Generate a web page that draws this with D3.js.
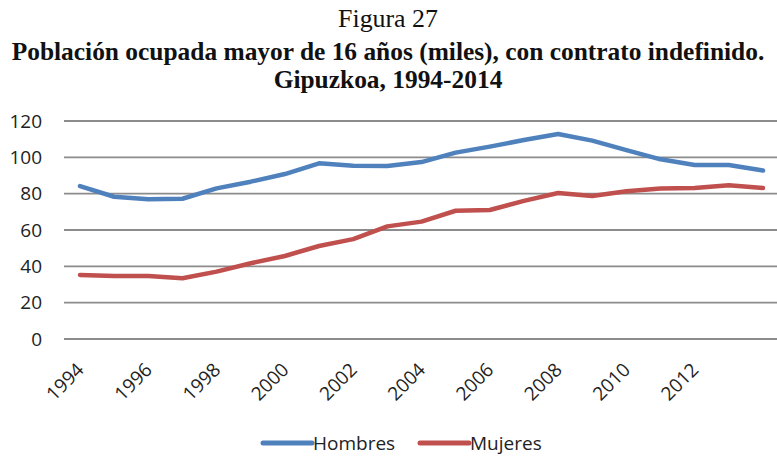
<!DOCTYPE html>
<html><head><meta charset="utf-8">
<script src="https://cdn.jsdelivr.net/npm/d3@7"></script>
<style>body{margin:0;background:#fff}</style>
</head><body>
<svg id="c" width="777" height="456"></svg>
<script>
const years = [1994,1995,1996,1997,1998,1999,2000,2001,2002,2003,2004,2005,2006,2007,2008,2009,2010,2011,2012,2013,2014];
const hombres = [84.2,78.3,76.9,77.2,82.9,86.6,90.8,96.7,95.4,95.2,97.4,102.6,105.9,109.5,112.8,109.2,104.0,98.9,95.8,95.8,92.7];
const mujeres = [35.2,34.7,34.7,33.4,37.1,41.7,45.7,51.2,55.0,62.0,64.6,70.6,71.0,76.0,80.4,78.7,81.3,82.9,83.1,84.6,83.1];
const xTickLabels = [1994,1996,1998,2000,2002,2004,2006,2008,2010,2012];
const yTicks = [0,20,40,60,80,100,120];
const seriesNames = ["Hombres","Mujeres"];
const colors = ["#4F81BD","#C0504D"];
const titleLines = ["Figura 27","Población ocupada mayor de 16 años (miles), con contrato indefinido.","Gipuzkoa, 1994-2014"];

const svg = d3.select("#c");
const x = d3.scalePoint().domain(years).range([80,763]);
const y = d3.scaleLinear().domain([0,120]).range([339,121]);

// gridlines
svg.append("g").selectAll("line").data(yTicks).join("line")
  .attr("x1",64).attr("x2",777).attr("y1",d=>y(d)).attr("y2",d=>y(d))
  .attr("stroke","#8c8c8c").attr("stroke-width",1.8);

// y labels
svg.append("g").selectAll("text").data(yTicks).join("text")
  .attr("x",42).attr("y",d=>y(d)).attr("dy","0.35em")
  .attr("text-anchor","end").attr("font-family","Open Sans").attr("font-size",19).attr("fill","#222")
  .text(d=>d);

// x labels
svg.append("g").selectAll("text").data(xTickLabels).join("text")
  .attr("text-anchor","end").attr("font-family","Open Sans").attr("font-size",19).attr("fill","#222")
  .attr("transform",d=>`translate(${x(d)+5},371) rotate(-45)`)
  .text(d=>d);

// lines
const line = d3.line().x((d,i)=>x(years[i])).y(d=>y(d));
[hombres,mujeres].forEach((s,k)=>{
  svg.append("path").datum(s).attr("d",line).attr("fill","none")
    .attr("stroke",colors[k]).attr("stroke-width",4.5)
    .attr("stroke-linejoin","round").attr("stroke-linecap","round");
});

// legend
const legX = [263,420];
seriesNames.forEach((n,k)=>{
  svg.append("line").attr("x1",legX[k]).attr("x2",legX[k]+49).attr("y1",443).attr("y2",443)
    .attr("stroke",colors[k]).attr("stroke-width",5).attr("stroke-linecap","round");
  svg.append("text").attr("x",legX[k]+50).attr("y",450).attr("font-family","Open Sans").attr("font-size",19).attr("fill","#222").text(n);
});

// title
const tSpecs = [
  {y:27, w:100, weight:"normal"},
  {y:60, w:753, weight:"bold"},
  {y:88, w:0, weight:"bold"}
];
let boldSize = 22;
titleLines.forEach((t,i)=>{
  const el = svg.append("text").attr("x",388).attr("y",tSpecs[i].y).attr("text-anchor","middle")
    .attr("font-family","Liberation Serif").attr("font-weight",tSpecs[i].weight)
    .attr("font-size",22).attr("fill","#111").text(t);
  if (tSpecs[i].w) {
    const L = el.node().getComputedTextLength();
    el.attr("font-size", 22 * tSpecs[i].w / L);
    if (i === 1) boldSize = 22 * tSpecs[i].w / L;
  } else {
    el.attr("font-size", boldSize);
  }
});
</script>
</body></html>
